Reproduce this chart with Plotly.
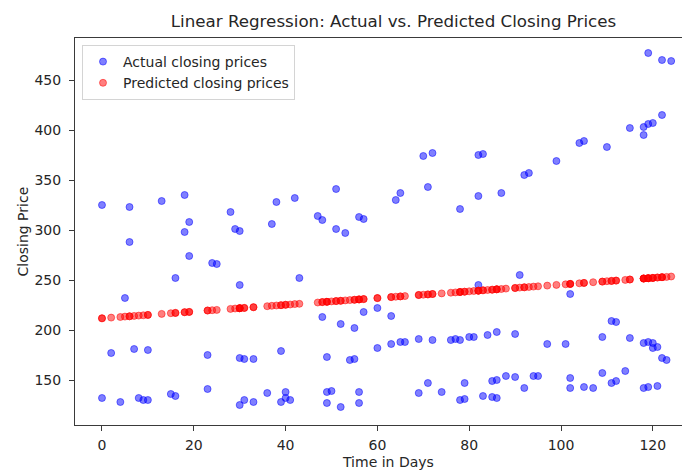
import plotly.graph_objects as go

# Actual closing prices (test set)
actual_days = [0, 0, 2, 4, 5, 6, 6, 7, 8, 9, 10, 10, 13, 15, 16, 16, 18, 18, 19, 19,
               23, 23, 24, 25, 28, 29, 30, 30, 30, 30, 31, 31, 33, 33, 36, 37, 38, 39, 39,
               40, 40, 41, 42, 43, 47, 48, 48, 49, 49, 49, 50, 51, 51, 52, 52, 53, 54,
               55, 55, 56, 56, 56, 57, 57, 60, 60, 63, 63, 64, 65, 65, 66, 69, 69, 70,
               71, 71, 72, 72, 74, 76, 77, 78, 78, 78, 79, 79, 80, 81, 82, 82, 82, 83, 83,
               84, 85, 85, 86, 86, 86, 87, 88, 90, 90, 91, 92, 92, 93, 94, 95, 97, 99,
               101, 102, 102, 102, 104, 105, 105, 107, 109, 109, 110, 111, 111, 112, 112,
               114, 115, 115, 118, 118, 118, 118, 119, 119, 119, 119, 120, 120, 120,
               121, 121, 122, 122, 122, 123, 124]
actual_prices = [325, 132, 177, 128, 232, 323, 288, 181, 132, 130, 180, 130, 329, 136, 252, 134, 335, 298, 308, 274,
                 175, 141, 267, 266, 318, 301, 299, 245, 172, 125, 171, 130, 171, 128, 137, 306, 328, 179, 128,
                 138, 132, 130, 332, 252, 314, 310, 213, 173, 138, 127, 139, 341, 301, 206, 123, 297, 170,
                 202, 171, 313, 138, 127, 311, 218, 222, 182, 214, 186, 330, 337, 188, 188, 191, 137, 374,
                 343, 147, 377, 190, 138, 190, 191, 321, 190, 130, 147, 131, 193, 193, 375, 334, 245, 376, 134,
                 195, 133, 149, 198, 132, 150, 337, 154, 196, 153, 255, 355, 142, 357, 154, 154, 186, 369,
                 186, 236, 152, 142, 387, 389, 143, 142, 193, 157, 383, 209, 147, 208, 149,
                 159, 402, 192, 403, 395, 187, 142, 477, 406, 188, 143, 407, 187, 182,
                 183, 144, 470, 415, 172, 170, 469]

# Predicted closing prices (regression output) per day
pred_days = [0, 2, 4, 5, 6, 7, 8, 9, 10, 13, 15, 16, 18, 19, 23, 24, 25, 28, 29, 30, 31, 33,
             36, 37, 38, 39, 40, 41, 42, 43, 47, 48, 49, 50, 51, 52, 53, 54, 55, 56, 57, 60,
             63, 64, 65, 66, 69, 70, 71, 72, 74, 76, 77, 78, 79, 80, 81, 82, 83, 84, 85, 86,
             87, 88, 90, 91, 92, 93, 94, 95, 97, 99, 101, 102, 104, 105, 107, 109, 110, 111,
             112, 114, 115, 118, 119, 120, 121, 122, 123, 124]
pred_prices = [211.7, 212.4, 213.0, 213.4, 213.7, 214.1, 214.4, 214.7, 215.1, 216.1, 216.8, 217.1,
               217.8, 218.1, 219.5, 219.8, 220.1, 221.1, 221.5, 221.8, 222.1, 222.8, 223.8, 224.2,
               224.5, 224.8, 225.2, 225.5, 225.9, 226.2, 227.5, 227.9, 228.2, 228.6, 228.9, 229.2,
               229.6, 229.9, 230.2, 230.6, 230.9, 231.9, 232.9, 233.3, 233.6, 233.9, 235.0, 235.3,
               235.6, 236.0, 236.6, 237.3, 237.6, 238.0, 238.3, 238.7, 239.0, 239.3, 239.7, 240.0,
               240.3, 240.7, 241.0, 241.4, 242.0, 242.4, 242.7, 243.0, 243.4, 243.7, 244.4, 245.1,
               245.7, 246.1, 246.7, 247.1, 247.8, 248.4, 248.8, 249.1, 249.4, 250.1, 250.5, 251.5,
               251.8, 252.1, 252.5, 252.8, 253.1, 253.5]

x_ticks = [0, 20, 40, 60, 80, 100, 120]
y_ticks = [150, 200, 250, 300, 350, 400, 450]

pred_lookup = dict(zip(pred_days, pred_prices))
pred_for_actual = [pred_lookup[d] for d in actual_days]

FONT = "DejaVu Sans"
TXT = "#262626"
AX = "#3a3a3a"

# the page body has an 8px margin, so the figure is laid out in a 682x462 box
W, H = 682, 462
ML, MT, MB = 67, 30, 45
PW, PH = W - ML, H - MT - MB

fig = go.Figure()
fig.add_trace(go.Scatter(
    x=actual_days, y=actual_prices, mode="markers", name="Actual closing prices",
    marker=dict(color="rgba(0,0,255,0.5)", size=7,
                line=dict(width=1, color="rgba(0,0,255,0.5)")),
))
fig.add_trace(go.Scatter(
    x=actual_days, y=pred_for_actual, mode="markers", name="Predicted closing prices",
    marker=dict(color="rgba(255,0,0,0.5)", size=7,
                line=dict(width=1, color="rgba(255,0,0,0.5)")),
))

fig.update_layout(
    width=W, height=H,
    margin=dict(l=ML, r=0, t=MT, b=MB, pad=0),
    paper_bgcolor="white", plot_bgcolor="white",
    font=dict(family=FONT, size=14, color=TXT),
    title=dict(text="Linear Regression: Actual vs. Predicted Closing Prices",
               x=385.5 / W, xref="container", xanchor="center",
               y=1 - 13 / H, yref="container", yanchor="middle",
               font=dict(family=FONT, size=16.7, color=TXT)),
    showlegend=True,
    legend=dict(x=7 / PW, y=1 - 7 / PH, xanchor="left", yanchor="top",
                bgcolor="rgba(255,255,255,0.8)", bordercolor="#d4d4d4", borderwidth=1,
                font=dict(family=FONT, size=14, color=TXT), tracegroupgap=0),
    annotations=[
        dict(text="Time in Days", xref="paper", yref="paper",
             x=(380 - ML) / PW, y=-36.7 / PH, xanchor="center", yanchor="middle",
             showarrow=False, font=dict(family=FONT, size=14, color=TXT)),
        dict(text="Closing Price", xref="paper", yref="paper",
             x=(14 - ML) / PW, y=0.5, xanchor="center", yanchor="middle", textangle=-90,
             showarrow=False, font=dict(family=FONT, size=14, color=TXT)),
    ],
)

fig.update_xaxes(
    range=[-5.88, 128.1], tickvals=x_ticks, ticktext=[str(v) for v in x_ticks],
    showgrid=False, zeroline=False, showline=True, linecolor=AX, linewidth=1,
    mirror=True, ticks="outside", ticklen=5, tickcolor=AX, ticklabelstandoff=2,
    tickfont=dict(family=FONT, size=14, color=TXT),
)
fig.update_yaxes(
    range=[105, 492], tickvals=y_ticks, ticktext=[str(v) for v in y_ticks],
    showgrid=False, zeroline=False, showline=True, linecolor=AX, linewidth=1,
    mirror=False, ticks="outside", ticklen=5, tickcolor=AX, ticklabelstandoff=5,
    tickfont=dict(family=FONT, size=14, color=TXT),
)

fig.write_html("out.html")
